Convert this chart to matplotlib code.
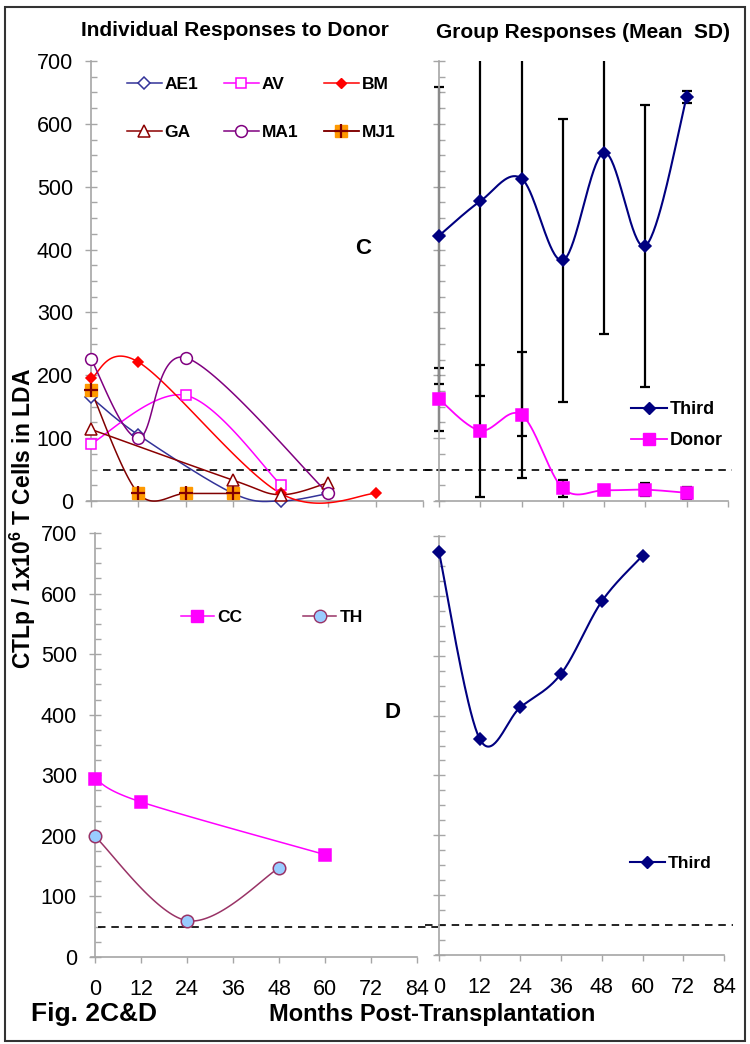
import numpy as np
import matplotlib
matplotlib.use("Agg")
import matplotlib.pyplot as plt
from matplotlib.lines import Line2D
from matplotlib.patches import Rectangle
from matplotlib.transforms import Bbox, TransformedBbox

plt.rcParams['font.family'] = ['Liberation Sans', 'DejaVu Sans']
plt.rcParams['mathtext.fontset'] = 'custom'
plt.rcParams['mathtext.rm'] = 'Liberation Sans'
plt.rcParams['mathtext.bf'] = 'Liberation Sans:bold'

# ---- data (months post-transplantation, CTLp per 1x10^6 T cells) ----
month_ticks = [0, 12, 24, 36, 48, 60, 72, 84]
threshold = 50

# panel C: individual responses to donor
ae1_x = [0, 12, 36, 48, 60]
ae1_y = [165, 105, 12, 0, 12]
av_x = [0, 24, 48]
av_y = [91, 168, 26]
bm_x = [0, 12, 48, 72]
bm_y = [195, 221, 12, 12]
ga_x = [0, 36, 48, 60]
ga_y = [114, 33, 10, 29]
ma1_x = [0, 12, 24, 60]
ma1_y = [226, 100, 228, 12]
mj1_x = [0, 12, 24, 36]
mj1_y = [176, 12, 12, 12]

# panel C right: group responses (mean, SD)
group_x = [0, 12, 24, 36, 48, 60, 72]
third_mean = [422, 477, 513, 383, 554, 406, 643]
third_sd = [236, 310, 409, 225, 289, 224, 10]
donor_mean = [162, 112, 137, 20, 17, 18, 13]
donor_sd = [50, 105, 100, 13, 7, 10, 10]

# panel D
cc_x = [0, 12, 60]
cc_y = [294, 256, 169]
th_x = [0, 24, 48]
th_y = [199, 60, 147]
third_d_x = [0, 12, 24, 36, 48, 60]
third_d_y = [673, 361, 414, 470, 591, 667]

W, H = 750, 1044
GRAY = '#A6A6A6'


def smooth(x, y, n=40):
    """ Excel-like smoothed line (Catmull-Rom as cubic Bezier) """
    pts = np.column_stack([x, y]).astype(float)
    if len(pts) < 3:
        return pts[:, 0], pts[:, 1]
    p = np.vstack([pts[0], pts, pts[-1]])
    t = np.linspace(0, 1, n)[:, None]
    out = []
    for i in range(len(pts) - 1):
        p0, p1, p2, p3 = p[i], p[i + 1], p[i + 2], p[i + 3]
        c1 = p1 + (p2 - p0) / 6
        c2 = p2 - (p3 - p1) / 6
        seg = ((1 - t) ** 3) * p1 + 3 * ((1 - t) ** 2) * t * c1 + 3 * (1 - t) * t ** 2 * c2 + t ** 3 * p2
        out.append(seg if i == 0 else seg[1:])
    out = np.vstack(out)
    return out[:, 0], out[:, 1]


def px_axes(fig, l, t, r, b):
    return fig.add_axes([l / W, 1 - b / H, (r - l) / W, (b - t) / H])


def style(ax, xlabels, ylabels):
    ax.set_xlim(0, 84)
    ax.set_ylim(0, 700)
    ax.set_xticks(month_ticks)
    ax.set_yticks(range(0, 701, 100))
    ax.set_yticks(range(0, 701, 25), minor=True)
    ax.patch.set_alpha(0)
    for s in ['top', 'right']:
        ax.spines[s].set_visible(False)
    for s in ['left', 'bottom']:
        ax.spines[s].set_color(GRAY)
        ax.spines[s].set_linewidth(1.2)
    ax.spines['bottom'].set_bounds(-1.0, 84)
    ax.tick_params(axis='y', which='major', direction='inout', length=8, width=1,
                   color=GRAY, labelsize=15.5, pad=9, labelleft=ylabels)
    ax.tick_params(axis='y', which='minor', direction='in', length=4, width=1, color=GRAY)
    ax.tick_params(axis='x', which='major', direction='out', length=4.5, width=1,
                   color=GRAY, labelsize=15.5, pad=11, labelbottom=xlabels)


def series(ax, x, y, color, marker, ms, mfc, mec=None, lw=1.1, mew=1.1):
    sx, sy = smooth(x, y)
    ax.plot(sx, sy, color=color, lw=lw, clip_on=False, zorder=3)
    ax.plot(x, y, linestyle='none', marker=marker, ms=ms, mfc=mfc,
            mec=mec if mec else color, mew=mew, clip_on=False, zorder=4)


fig = plt.figure(figsize=(W / 100, H / 100), dpi=100)

axC = px_axes(fig, 91, 61, 423, 501)
axG = px_axes(fig, 439, 61, 728, 501)
axD = px_axes(fig, 95, 533, 417, 957)
axT = px_axes(fig, 439, 536, 724, 955)

style(axC, False, True)
style(axG, False, False)
style(axD, True, True)
style(axT, True, False)

# threshold lines, running across both columns
for ax, x0, x1 in [(axC, 3, 88), (axG, -4, 85.2), (axD, 0.8, 89.5), (axT, -4, 86.6)]:
    ax.plot([x0, x1], [threshold, threshold], color='black', lw=1.2,
            dashes=(4.5, 3.5), clip_on=False, zorder=2)

# ---- panel C: individual ----
series(axC, ae1_x, ae1_y, '#333399', 'D', 6.5, 'white')
series(axC, av_x, av_y, '#FF00FF', 's', 7.5, 'white')
series(axC, bm_x, bm_y, '#FF0000', 'D', 5.5, '#FF0000')
series(axC, ga_x, ga_y, '#8B0000', '^', 8.5, 'white')
series(axC, ma1_x, ma1_y, '#800080', 'o', 8.5, 'white')
sx, sy = smooth(mj1_x, mj1_y)
axC.plot(sx, sy, color='#800000', lw=1.1, clip_on=False, zorder=3)
axC.plot(mj1_x, mj1_y, linestyle='none', marker='s', ms=8.5, mfc='#FF9900',
         mec='#FF9900', clip_on=False, zorder=4)
axC.plot(mj1_x, mj1_y, linestyle='none', marker='+', ms=9.5, mew=1.6, mec='#800000',
         clip_on=False, zorder=5)

h_ae1 = Line2D([], [], color='#333399', lw=1.1, marker='D', ms=6.5, mfc='white', mew=1.1)
h_av = Line2D([], [], color='#FF00FF', lw=1.1, marker='s', ms=7.5, mfc='white', mew=1.1)
h_bm = Line2D([], [], color='#FF0000', lw=1.1, marker='D', ms=5.5, mfc='#FF0000')
h_ga = Line2D([], [], color='#8B0000', lw=1.1, marker='^', ms=8.5, mfc='white', mew=1.1)
h_ma1 = Line2D([], [], color='#800080', lw=1.1, marker='o', ms=8.5, mfc='white', mew=1.1)
h_mj1a = Line2D([], [], color='#800000', lw=1.1, marker='s', ms=8.5, mfc='#FF9900', mec='#FF9900')
h_mj1b = Line2D([], [], color='#800000', lw=1.1, marker='+', ms=9.5, mew=1.6, mec='#800000')
leg = axC.legend([h_ae1, h_ga, h_av, h_ma1, h_bm, (h_mj1a, h_mj1b)],
                 ['AE1', 'GA', 'AV', 'MA1', 'BM', 'MJ1'], ncol=3,
                 loc='upper left', bbox_to_anchor=(127 / W, 1 - 77 / H),
                 bbox_transform=fig.transFigure, frameon=False,
                 prop={'weight': 'bold', 'size': 12.5}, handlelength=2.0,
                 handletextpad=0.15, columnspacing=1.5, labelspacing=1.9,
                 borderpad=0, borderaxespad=0)
axC.text(363 / W, 1 - 248 / H, 'C', transform=fig.transFigure, ha='center', va='center',
         fontsize=16, fontweight='bold')

# ---- panel C: group responses ----
ext = Bbox([[-0.06, -0.06], [1.06, 1.0]])
for mean, sd in [(third_mean, third_sd), (donor_mean, donor_sd)]:
    eb = axG.errorbar(group_x, mean, yerr=sd, fmt='none', ecolor='black', elinewidth=1.6,
                      capsize=3.5, capthick=1.6, zorder=2)
    for art in list(eb.lines[1]) + list(eb.lines[2]):
        art.set_clip_box(TransformedBbox(ext, axG.transAxes))
series(axG, group_x, third_mean, '#000080', 'D', 6.5, '#000080', lw=1.5)
series(axG, group_x, donor_mean, '#FF00FF', 's', 8.5, '#FF00FF', lw=1.3)
h_third = Line2D([], [], color='#000080', lw=1.5, marker='D', ms=6.5, mfc='#000080')
h_donor = Line2D([], [], color='#FF00FF', lw=1.3, marker='s', ms=8.5, mfc='#FF00FF')
axG.legend([h_third, h_donor], ['Third', 'Donor'], loc='upper left',
           bbox_to_anchor=(631 / W, 1 - 401 / H), bbox_transform=fig.transFigure,
           frameon=False, prop={'weight': 'bold', 'size': 13}, handlelength=2.0,
           handletextpad=0.15, labelspacing=0.8, borderpad=0, borderaxespad=0)

# ---- panel D ----
series(axD, cc_x, cc_y, '#FF00FF', 's', 8, '#FF00FF')
series(axD, th_x, th_y, '#993366', 'o', 9, '#99CCFF')
h_cc = Line2D([], [], color='#FF00FF', lw=1.1, marker='s', ms=8, mfc='#FF00FF')
h_th = Line2D([], [], color='#993366', lw=1.1, marker='o', ms=9, mfc='#99CCFF')
axD.legend([h_cc, h_th], ['CC', 'TH'], ncol=2, loc='upper left',
           bbox_to_anchor=(181 / W, 1 - 610 / H), bbox_transform=fig.transFigure,
           frameon=False, prop={'weight': 'bold', 'size': 12.5}, handlelength=1.9,
           handletextpad=0.2, columnspacing=3.5, borderpad=0, borderaxespad=0)
axD.text(393 / W, 1 - 713 / H, 'D', transform=fig.transFigure, ha='center', va='center',
         fontsize=16, fontweight='bold')

series(axT, third_d_x, third_d_y, '#000080', 'D', 6.5, '#000080', lw=1.5)
h_third2 = Line2D([], [], color='#000080', lw=1.5, marker='D', ms=6.5, mfc='#000080')
axT.legend([h_third2], ['Third'], loc='upper left',
           bbox_to_anchor=(630 / W, 1 - 856 / H), bbox_transform=fig.transFigure,
           frameon=False, prop={'weight': 'bold', 'size': 12.5}, handlelength=2.0,
           handletextpad=0.15, borderpad=0, borderaxespad=0)

# ---- figure texts ----
fig.text(235 / W, 1 - 30 / H, 'Individual Responses to Donor', ha='center', va='center',
         fontsize=15, fontweight='bold')
fig.text(583 / W, 1 - 32 / H, 'Group Responses (Mean  SD)', ha='center', va='center',
         fontsize=15, fontweight='bold')
fig.text(23 / W, 1 - 519 / H, r'CTLp / 1x10$^\mathbf{6}$ T Cells in LDA', rotation=90,
         ha='center', va='center', fontsize=16.5, fontweight='bold')
fig.text(94 / W, 1 - 1014 / H, 'Fig. 2C&D', ha='center', va='center',
         fontsize=19, fontweight='bold')
fig.text(432 / W, 1 - 1015 / H, 'Months Post-Transplantation', ha='center', va='center',
         fontsize=17, fontweight='bold')

# outer frame
fig.patches.append(Rectangle((5 / W, 1 - 1041 / H), 740 / W, 1034 / H,
                             transform=fig.transFigure, fill=False,
                             edgecolor='#333333', lw=1.5))

fig.savefig('out.png', dpi=100)
